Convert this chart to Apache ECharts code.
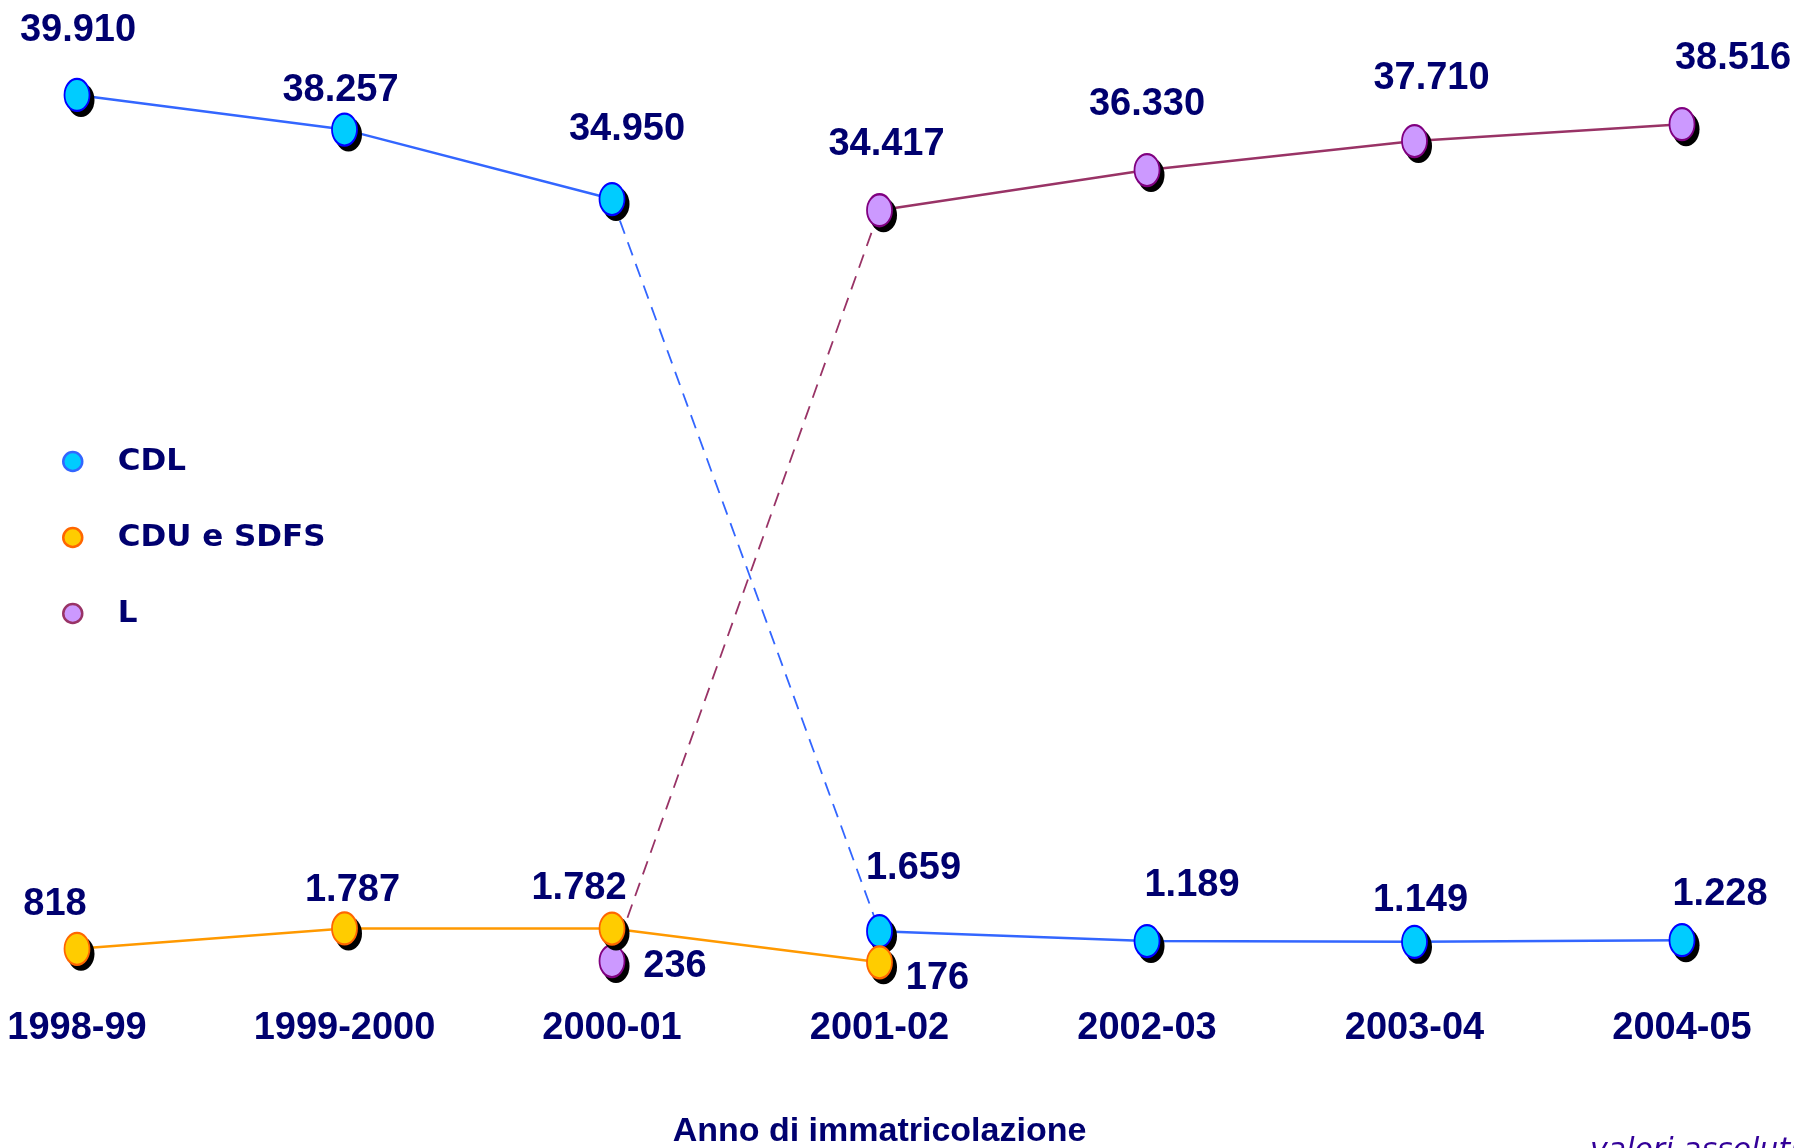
<!DOCTYPE html>
<html><head><meta charset="utf-8">
<style>html,body{margin:0;padding:0;background:#fff}#c{width:1794px;height:1148px}</style>
<script src="https://cdn.jsdelivr.net/npm/echarts@6/dist/echarts.min.js"></script>
</head><body><div id="c"></div>
<script>
// ---------------- data ----------------
const categories = ['1998-99', '1999-2000', '2000-01', '2001-02', '2002-03', '2003-04', '2004-05'];
const cdl = [39910, 38257, 34950, 1659, 1189, 1149, 1228];
const cdu = [818, 1787, 1782, 176, null, null, null];
const laurea = [null, null, 236, 34417, 36330, 37710, 38516];
const seriesNames = ['CDL', 'CDU e SDFS', 'L'];
const xAxisName = 'Anno di immatricolazione';
const noteText = 'valori assoluti';

// ---------------- styles ----------------
const NAVY = '#00006f';
const ELLIPSE = 'path://M0 50 A50 50 0 1 1 100 50 A50 50 0 1 1 0 50 Z';
const st = {
  'CDL':        { line: '#3366FF', fill: '#00CCFF', border: '#0000FF', legendBorder: '#3366FF', z: 5 },
  'CDU e SDFS': { line: '#FF9900', fill: '#FFCC00', border: '#FF6600', legendBorder: '#FF6600', z: 7 },
  'L':          { line: '#993366', fill: '#CC99FF', border: '#800080', legendBorder: '#993366', z: 3 }
};
const labelOffsets = {
  'CDL':        [[1, -64], [-4, -39], [15, -70], [34, -63], [45, -56], [6, -41], [38, -46]],
  'CDU e SDFS': [[-22, -44], [8, -38], [-33, -40], [58, 16], null, null, null],
  'L':          [null, null, [63, 5], [7, -66], [0, -66], [17, -63], [51, -66]]
};
// which index ranges are drawn solid / dashed
const segs = {
  'CDL':        { solid: [[0, 2], [3, 6]], dashed: [[2, 3]] },
  'CDU e SDFS': { solid: [[0, 3]], dashed: [] },
  'L':          { solid: [[3, 6]], dashed: [[2, 3]] }
};
const valuesByName = { 'CDL': cdl, 'CDU e SDFS': cdu, 'L': laurea };

function part(values, from, to) {
  return values.map((v, i) => (i >= from && i <= to) ? v : null);
}
function fmt(v) {
  return String(v).replace(/\B(?=(\d{3})+(?!\d))/g, '.');
}

const MARK = [25, 32];
const series = [];
seriesNames.forEach(name => {
  const vals = valuesByName[name];
  const s = st[name];
  segs[name].solid.forEach((r, k) => {
    series.push({
      name: name + '_solid' + k, type: 'line', data: part(vals, r[0], r[1]),
      symbol: 'none', silent: true, z: 1, connectNulls: false,
      lineStyle: { color: s.line, width: 2.5 }, emphasis: { disabled: true }
    });
  });
  segs[name].dashed.forEach((r, k) => {
    series.push({
      name: name + '_dash' + k, type: 'line', data: part(vals, r[0], r[1]),
      symbol: 'none', silent: true, z: 1, connectNulls: false,
      lineStyle: { color: s.line, width: 1.8, type: [14, 9] }, emphasis: { disabled: true }
    });
  });
});
seriesNames.forEach(name => {
  const vals = valuesByName[name];
  const s = st[name];
  // drop shadow of the markers
  series.push({
    name: name + '_shadow', type: 'line', z: s.z - 1, silent: true,
    data: vals.slice(),
    symbol: ELLIPSE, symbolSize: [MARK[0] + 2, MARK[1] + 2], symbolOffset: [4, 5],
    showSymbol: true, showAllSymbol: true,
    lineStyle: { width: 0, opacity: 0 },
    itemStyle: { color: '#000000' },
    label: { show: false },
    emphasis: { disabled: true }
  });
  series.push({
    name: name, type: 'line', z: s.z,
    data: vals.map((v, i) => ({ value: v, label: { offset: labelOffsets[name][i] || [0, 0] } })),
    symbol: ELLIPSE, symbolSize: MARK, showSymbol: true, showAllSymbol: true,
    lineStyle: { width: 0, opacity: 0 },
    itemStyle: { color: s.fill, borderColor: s.border, borderWidth: 2 },
    label: { show: true, position: 'inside', formatter: p => fmt(p.value),
      fontFamily: 'Liberation Sans', fontWeight: 'bold', fontSize: 38, color: NAVY },
    emphasis: { disabled: true }
  });
});

const chart = echarts.init(document.getElementById('c'));
chart.setOption({
  animation: false,
  backgroundColor: '#ffffff',
  grid: { left: 77, right: 112, top: 93, bottom: 182, containLabel: false, outerBoundsMode: 'none' },
  legend: {
    orient: 'vertical', left: 57, top: 441, itemGap: 45, itemWidth: 20, itemHeight: 19,
    icon: 'circle', selectedMode: false,
    data: seriesNames.map(n => ({ name: n, itemStyle: { color: st[n].fill, borderColor: st[n].legendBorder, borderWidth: 2.5,
      shadowBlur: 0, shadowOffsetX: 0, shadowOffsetY: 0, shadowColor: 'transparent' } })),
    textStyle: { fontFamily: 'DejaVu Sans', fontWeight: 'bold', fontSize: 31, lineHeight: 30, color: NAVY,
      padding: [0, 0, 0, 30] }
  },
  xAxis: {
    type: 'category', data: categories, boundaryGap: false,
    axisLine: { show: false }, axisTick: { show: false }, splitLine: { show: false },
    axisLabel: { interval: 0, margin: 44, fontFamily: 'Liberation Sans', fontWeight: 'bold', fontSize: 38, color: NAVY },
    name: xAxisName, nameLocation: 'middle', nameGap: 149,
    nameTextStyle: { fontFamily: 'Liberation Sans', fontWeight: 'bold', fontSize: 34, color: NAVY }
  },
  yAxis: {
    type: 'value', min: 0, max: 40000,
    breaks: [{ start: 2000, end: 34000, gap: 33571 }],
    breakArea: { show: false },
    axisLine: { show: false }, axisTick: { show: false }, axisLabel: { show: false }, splitLine: { show: false }
  },
  graphic: [{
    type: 'text', left: 1590, top: 1136,
    style: { text: noteText, font: 'italic 30px "DejaVu Sans"', fill: '#330099' }
  }],
  series: series
});
</script>
</body></html>
